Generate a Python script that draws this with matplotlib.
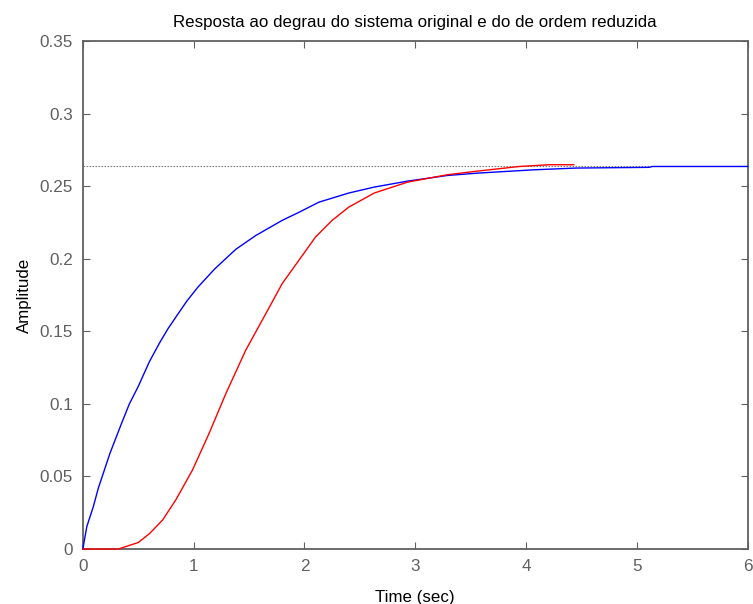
import matplotlib
matplotlib.use("Agg")
import matplotlib.pyplot as plt

plt.rcParams['font.family'] = ['Liberation Sans', 'DejaVu Sans']

# original system step response
t_orig = [0.0, 0.036, 0.095, 0.14, 0.245, 0.35, 0.42, 0.50, 0.60, 0.69, 0.77, 0.85,
          0.94, 1.04, 1.19, 1.38, 1.56, 1.80, 1.95, 2.13, 2.40, 2.63, 2.93,
          3.29, 3.56, 4.07, 4.45, 5.11, 5.14, 6.0]
y_orig = [0.0, 0.0155, 0.0293, 0.042, 0.066, 0.0867, 0.100, 0.112, 0.129, 0.1417, 0.152, 0.161,
          0.171, 0.1806, 0.193, 0.2065, 0.216, 0.2265, 0.232, 0.239, 0.2453, 0.2494, 0.2535,
          0.2574, 0.259, 0.2613, 0.2625, 0.263, 0.2636, 0.2636]

# reduced order system step response
t_red = [0.0, 0.32, 0.50, 0.60, 0.72, 0.78, 0.84, 0.99, 1.14, 1.29, 1.47, 1.65,
         1.80, 1.95, 2.10, 2.25, 2.40, 2.63, 2.93, 3.29, 3.56, 3.94, 4.21, 4.43]
y_red = [0.0, 0.0, 0.0045, 0.0105, 0.020, 0.027, 0.034, 0.0545, 0.0798, 0.107, 0.137, 0.162,
         0.183, 0.199, 0.215, 0.2265, 0.2356, 0.2453, 0.2528, 0.2579, 0.2604, 0.2636, 0.2648, 0.2648]

final_value = 0.2636

grey = '#606060'

fig = plt.figure(figsize=(7.53, 6.04), dpi=100)
ax = fig.add_axes([0.110, 0.091, 0.883, 0.841])

ax.axhline(final_value, color='#808080', linestyle=(0, (1.5, 1.2)), linewidth=0.8)
ax.plot(t_orig, y_orig, color='#0000ff', linewidth=1.0, clip_on=False, zorder=3)
ax.plot(t_red, y_red, color='#ff0000', linewidth=1.0, clip_on=False, zorder=3)

ax.set_xlim(0, 6)
ax.set_ylim(0, 0.35)
ax.set_xticks([0, 1, 2, 3, 4, 5, 6])
ax.set_yticks([0, 0.05, 0.1, 0.15, 0.2, 0.25, 0.3, 0.35])
ax.set_yticklabels(['0', '0.05', '0.1', '0.15', '0.2', '0.25', '0.3', '0.35'])

for s in ax.spines.values():
    s.set_color(grey)
    s.set_linewidth(1.3)
ax.tick_params(direction='in', length=5, width=0.8, color=grey, labelcolor=grey,
               labelsize=12.3, top=True, right=True, pad=7)

ax.set_title('Resposta ao degrau do sistema original e do de ordem reduzida',
             fontsize=12.2, pad=10)
ax.set_xlabel('Time (sec)', fontsize=12.2, labelpad=12)
ax.set_ylabel('Amplitude', fontsize=12.2, labelpad=6)

fig.savefig('out.png', dpi=100)
